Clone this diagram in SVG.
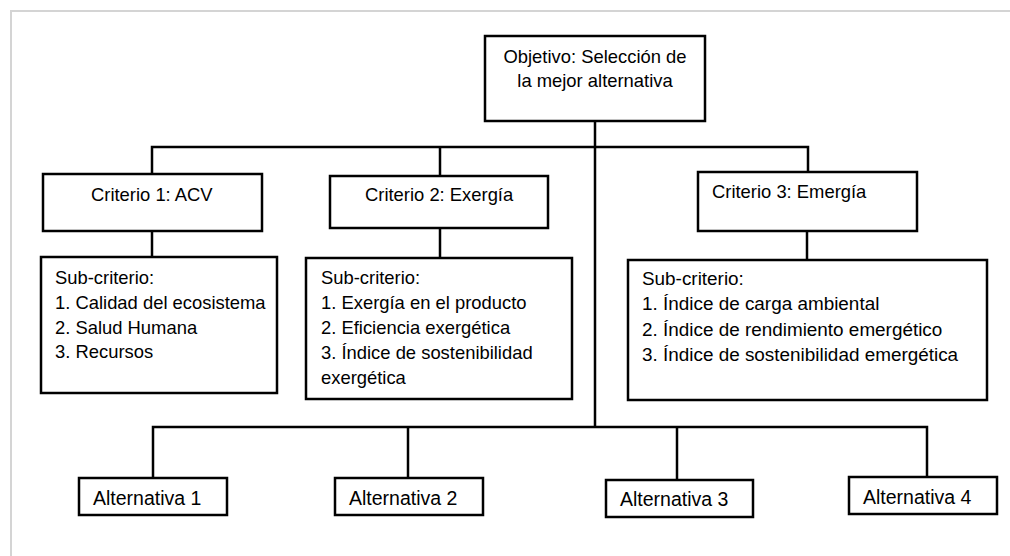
<svg xmlns="http://www.w3.org/2000/svg" width="1010" height="556" viewBox="0 0 1010 556">
<style>
.box{fill:#fff;stroke:#000;stroke-width:2.5}
.ln{fill:none;stroke:#000;stroke-width:2.5}
text{font-family:"Liberation Sans",Arial,sans-serif;font-size:18.4px;fill:#000}
.alt{font-size:19.5px}
.s3{font-size:18.9px}
</style>
<rect width="1010" height="556" fill="#fff"/>
<path d="M11 556 V11 H1010" fill="none" stroke="#d4d4d4" stroke-width="2"/>
<g id="connectors">
<path class="ln" d="M595 121 V427"/>
<path class="ln" d="M152 174 V147 H808 V172"/>
<path class="ln" d="M440 147 V176"/>
<path class="ln" d="M152 231 V257"/>
<path class="ln" d="M440 228 V258"/>
<path class="ln" d="M807 231 V260"/>
<path class="ln" d="M153 478 V427 H927 V477"/>
<path class="ln" d="M408 427 V478"/>
<path class="ln" d="M677 427 V480"/>
</g>
<g id="objetivo">
<rect class="box" x="485" y="36" width="220" height="85"/>
<text x="595" y="63" text-anchor="middle">Objetivo: Selección de</text>
<text x="595" y="87" text-anchor="middle">la mejor alternativa</text>
</g>
<g id="criterio1">
<rect class="box" x="43" y="174" width="219" height="57"/>
<text x="91" y="201">Criterio 1: ACV</text>
</g>
<g id="criterio2">
<rect class="box" x="330" y="176" width="218" height="52"/>
<text x="365" y="201">Criterio 2: Exergía</text>
</g>
<g id="criterio3">
<rect class="box" x="698" y="172" width="219" height="59"/>
<text x="712" y="198">Criterio 3: Emergía</text>
</g>
<g id="sub1">
<rect class="box" x="41" y="257" width="236" height="136"/>
<text x="55" y="284">Sub-criterio:</text>
<text x="55" y="309">1. Calidad del ecosistema</text>
<text x="55" y="334">2. Salud Humana</text>
<text x="55" y="358">3. Recursos</text>
</g>
<g id="sub2">
<rect class="box" x="306" y="258" width="266" height="141"/>
<text x="321" y="284">Sub-criterio:</text>
<text x="321" y="309">1. Exergía en el producto</text>
<text x="321" y="334">2. Eficiencia exergética</text>
<text x="321" y="359">3. Índice de sostenibilidad</text>
<text x="321" y="384">exergética</text>
</g>
<g id="sub3">
<rect class="box" x="628" y="260" width="359" height="140"/>
<text class="s3" x="642" y="285">Sub-criterio:</text>
<text class="s3" x="642" y="310">1. Índice de carga ambiental</text>
<text class="s3" x="642" y="336">2. Índice de rendimiento emergético</text>
<text class="s3" x="642" y="361">3. Índice de sostenibilidad emergética</text>
</g>
<g id="alt1">
<rect class="box" x="79" y="478" width="148" height="37"/>
<text class="alt" x="93" y="505">Alternativa 1</text>
</g>
<g id="alt2">
<rect class="box" x="335" y="478" width="148" height="37"/>
<text class="alt" x="349" y="505">Alternativa 2</text>
</g>
<g id="alt3">
<rect class="box" x="606" y="480" width="147" height="37"/>
<text class="alt" x="620" y="506">Alternativa 3</text>
</g>
<g id="alt4">
<rect class="box" x="849" y="477" width="148" height="37"/>
<text class="alt" x="863" y="504">Alternativa 4</text>
</g>
</svg>
